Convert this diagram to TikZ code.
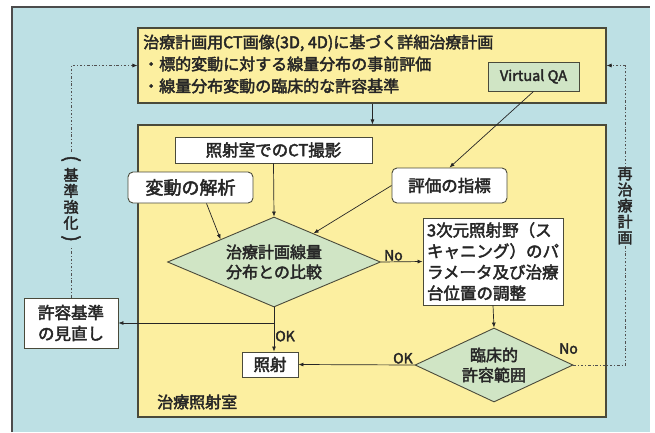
\documentclass[tikz,border=0pt]{standalone}
\usepackage{fontspec}
\setmainfont{Noto Sans CJK JP}[AutoFakeBold=2.5]
\usetikzlibrary{shapes.geometric,arrows.meta,calc}
\definecolor{bgblue}{HTML}{BDE0E4}
\definecolor{ylw}{HTML}{FCEFA0}
\definecolor{grn}{HTML}{D0E5C5}
\definecolor{bord}{HTML}{4A4A3A}
\definecolor{txt}{HTML}{262626}
\newcommand{\fsz}[2]{\fontsize{#1}{#2}\selectfont\bfseries}
\newcommand{\vparL}{\rotatebox[origin=c]{-90}{\fontsize{19}{19}\selectfont\bfseries (}}
\newcommand{\vparR}{\rotatebox[origin=c]{-90}{\fontsize{19}{19}\selectfont\bfseries )}}
\tikzset{
  bigbox/.style={draw=bord,line width=1.1pt,fill=ylw},
  wbox/.style={draw=bord,line width=0.9pt,fill=white,inner sep=0pt,text=txt},
  rbox/.style={wbox,rounded corners=5pt},
  dia/.style={diamond,draw=bord,line width=0.9pt,fill=grn,inner sep=0pt,text=txt,align=center,font=\fsz{16}{20}},
  arr/.style={draw=txt,line width=0.7pt,-{Latex[length=5pt,width=4pt]}},
  dd/.style={draw=txt!80,line width=0.7pt,dash pattern=on 2.5pt off 2pt on 0.8pt off 2pt},
  lbl/.style={text=txt,inner sep=1pt,font=\fsz{14}{16}},
  vlbl/.style={fill=bgblue,text=txt,inner sep=1pt,align=center,font=\fsz{15}{16}}
}
\begin{document}
\begin{tikzpicture}[x=1pt,y=-1pt]
\useasboundingbox (0,0) rectangle (655,432);
\fill[white] (0,0) rectangle (655,432);
\fill[bgblue] (12,7) rectangle (650,432);
\draw[black!70,line width=1.2pt] (12,432) -- (12,7) -- (650,7);
% top box
\node[bigbox,minimum width=468pt,minimum height=75pt,inner sep=0pt] (top) at (372,65.5) {};
\node[anchor=west,text=txt,inner sep=0pt,font=\fsz{16}{18}] (t1) at (143,43) {治療計画用CT画像(3D, 4D)に基づく詳細治療計画};
\node[anchor=west,text=txt,inner sep=0pt,font=\fsz{16}{18}] (t2) at (143,64) {・標的変動に対する線量分布の事前評価};
\node[anchor=west,text=txt,inner sep=0pt,font=\fsz{16}{18}] (t3) at (143,86) {・線量分布変動の臨床的な許容基準};
\node[draw=bord,line width=0.9pt,fill=grn,text=txt,minimum width=91pt,minimum height=29pt,inner sep=0pt,font=\fsz{14.5}{16}] (vqa) at (533.5,76.5) {Virtual QA};
% room
\node[bigbox,minimum width=468pt,minimum height=292pt,inner sep=0pt] (room) at (372,271) {};
\node[anchor=west,text=txt,inner sep=0pt,font=\fsz{16}{18}] (roomlbl) at (157,402) {治療照射室};
% boxes
\node[wbox,minimum width=197pt,minimum height=26pt,font=\fsz{16.5}{18}] (ct) at (273.5,150) {照射室でのCT撮影};
\node[rbox,minimum width=125pt,minimum height=31pt,font=\fsz{18}{20}] (hendo) at (190.5,187.5) {変動の解析};
\node[rbox,minimum width=115pt,minimum height=35pt,font=\fsz{16.5}{18}] (hyoka) at (449.5,185.5) {評価の指標};
\node[dia,minimum width=213pt,minimum height=90pt,aspect=2.37] (cmp) at (274,262) {治療計画線量\\分布との比較};
\node[wbox,minimum width=140pt,minimum height=87pt,align=left,font=\fsz{16.5}{21}] (adj) at (493,261.5) {3次元照射野（ス\\キャニング）のパ\\ラメータ及び治療\\台位置の調整};
\node[dia,minimum width=158pt,minimum height=74pt,aspect=2.13] (clin) at (494,365) {臨床的\\許容範囲};
\node[wbox,minimum width=56pt,minimum height=25pt,font=\fsz{16.5}{18}] (shosha) at (270,364.5) {照射};
\node[wbox,minimum width=94pt,minimum height=50pt,align=center,font=\fsz{16.5}{21}] (review) at (71,323) {許容基準\\の見直し};
% arrows
\draw[arr] (top.south -| ct.east) -- (room.north -| ct.east);
\draw[arr] (ct.south) -- (cmp.north);
\draw[arr] ([xshift=16pt]hendo.south) -- ($(cmp.north)!0.5!(cmp.west)$);
\draw[arr] (hyoka.west) -- ($(cmp.north)!0.37!(cmp.east)$);
\draw[arr] (vqa.south) -- (hyoka.north);
\draw[arr] (cmp.east) -- node[lbl,above,pos=0.3] (no1) {No} (adj.west);
\draw[arr] (adj.south) -- (clin.north);
\draw[arr] (clin.west) -- node[lbl,above,pos=0.1] (ok2) {OK} (shosha.east);
\draw[arr] (cmp.south) -- node[lbl,right,pos=0.65] (ok1) {OK} (shosha.north -| cmp.south);
\draw[arr] (cmp.south |- review.east) -- (review.east);
% dashed feedback
\draw[dd] (review.north) |- (top.west);
\draw[-{Latex[length=5pt,width=4pt]},draw=txt,line width=0.7pt] ([xshift=-4pt]top.west) -- (top.west);
\coordinate (rc) at (625,365);
\draw[dd] (clin.east) -- (rc) |- (top.east);
\draw[-{Latex[length=5pt,width=4pt]},draw=txt,line width=0.7pt] ([xshift=4pt]top.east) -- (top.east);
\node[lbl,anchor=south west] (no2) at (558,355) {No};
\node[vlbl] (kijun) at (71,200) {\vparL\\基\\準\\強\\化\\\vparR};
\node[vlbl] (saichi) at (625,206) {再\\治\\療\\計\\画};
\end{tikzpicture}
\end{document}
